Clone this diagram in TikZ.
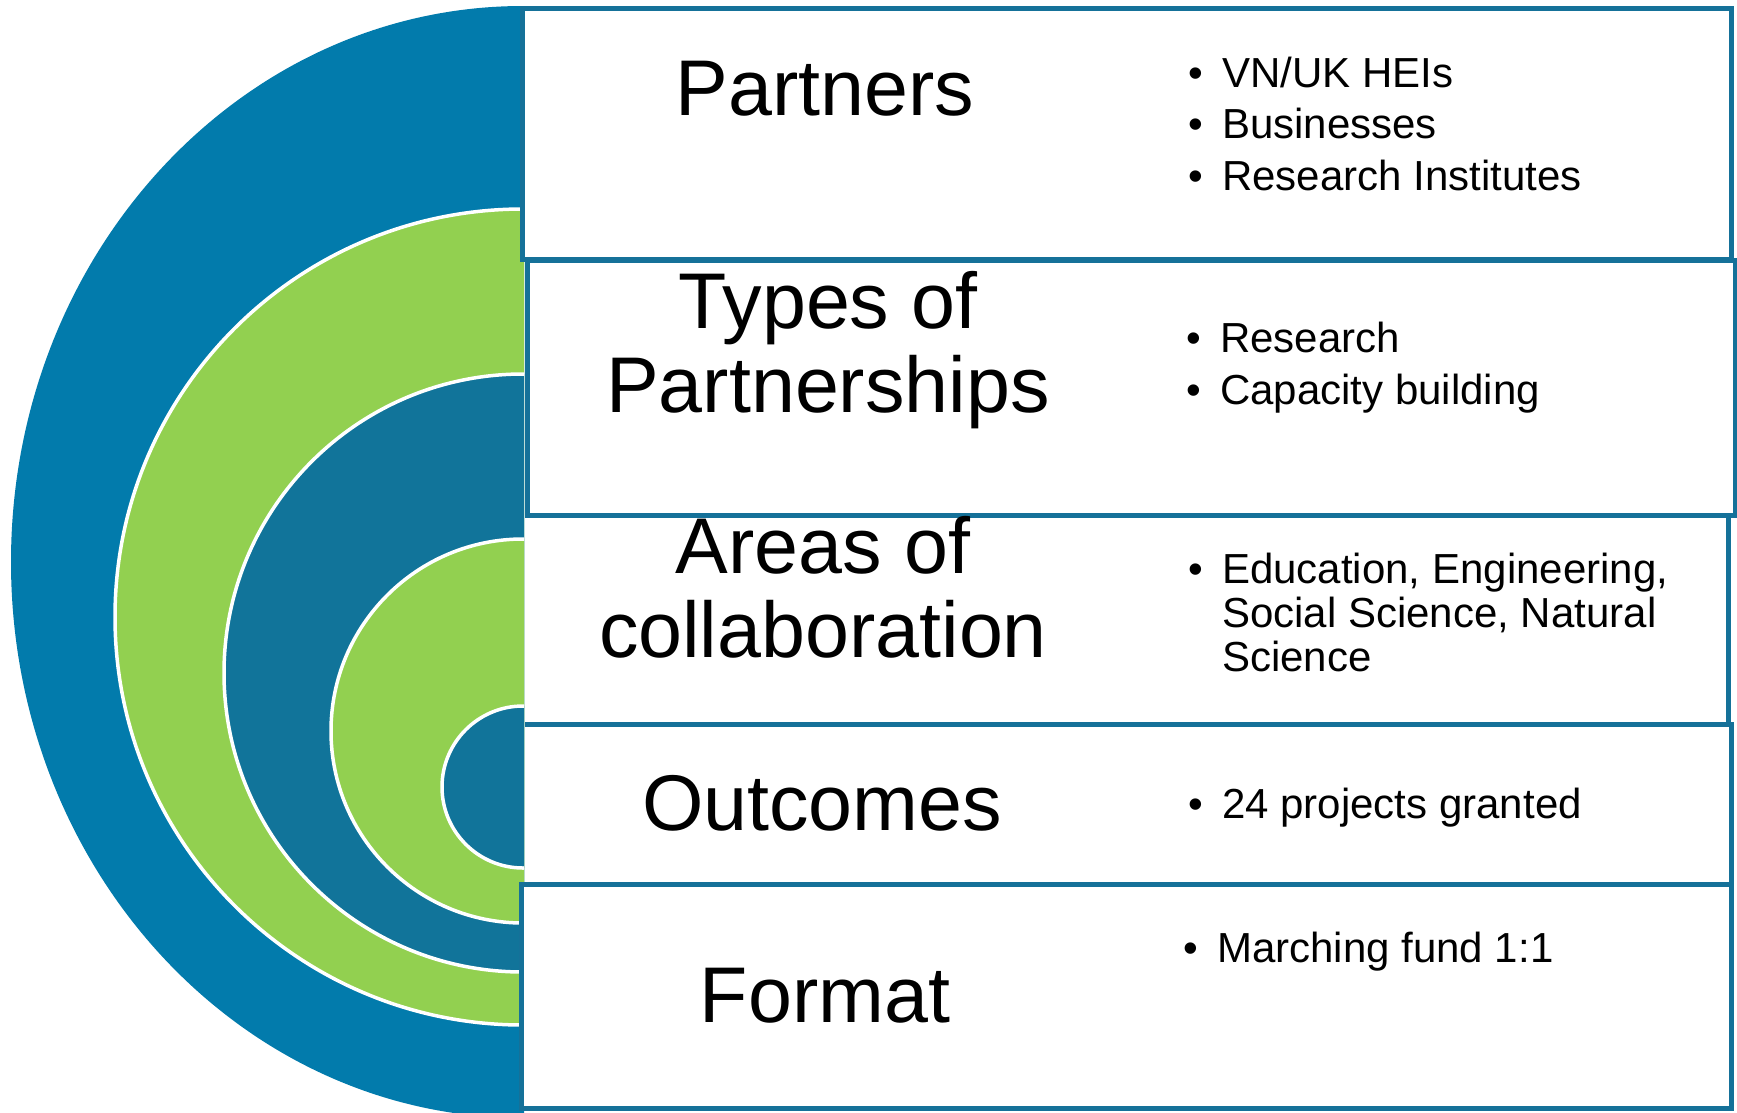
\documentclass[tikz,border=0pt]{standalone}
\usepackage{fontspec}
\setmainfont{Liberation Sans}
\definecolor{outerblue}{HTML}{027BAC}
\definecolor{innerblue}{HTML}{11749A}
\definecolor{ringgreen}{HTML}{92D050}
\definecolor{boxline}{HTML}{157199}
\tikzset{
  ring/.style={draw=white, line width=3.5pt},
  boxnode/.style={rectangle, fill=white, draw=boxline, line width=5pt, inner sep=0pt, outer sep=0pt},
  boxplain/.style={rectangle, fill=white, draw=none, inner sep=0pt, outer sep=0pt},
  boxedge/.style={draw=boxline, line width=5pt},
  title/.style={anchor=base, inner sep=0pt, align=center, font=\fontsize{79}{84}\selectfont},
  items/.style={anchor=base west, inner sep=0pt, align=left},
}
\newcommand{\bitem}[1]{\makebox[34pt][l]{\textbullet}#1}
\newcommand{\bcont}[1]{\hspace*{34pt}#1}
\begin{document}
\begin{tikzpicture}[x=1pt,y=-1pt]
\useasboundingbox (0,0) rectangle (1737,1112);
% concentric half rings
\begin{scope}
  \clip (0,0) rectangle (524,1112);
  \fill[outerblue] (523,562) ellipse [x radius=512, y radius=556];
  \filldraw[ring, fill=ringgreen] (523,617) circle [radius=408];
  \filldraw[ring, fill=innerblue] (523,673) circle [radius=299];
  \filldraw[ring, fill=ringgreen] (523,731) circle [radius=192];
  \filldraw[ring, fill=innerblue] (523,787) circle [radius=81];
\end{scope}
% boxes
\node[boxnode, minimum width=1209pt, minimum height=250.5pt] (b1) at (1127,133.75) {};
\node[boxnode, minimum width=1207.5pt, minimum height=255pt] (b2) at (1131.25,387.5) {};
\node[boxplain, minimum width=1203pt, minimum height=209pt] (b3) at (1126.5,619.5) {};
\draw[boxedge] (b3.north west) -- (b3.north east) -- (b3.south east) -- (b3.south west);
\node[boxplain, minimum width=1201pt, minimum height=160pt] (b4) at (1130.5,804) {};
\draw[boxedge] (b4.north west) -- (b4.north east) -- (b4.south east) -- (b4.south west);
\node[boxnode, minimum width=1210pt, minimum height=224pt] (b5) at (1126,996) {};
% titles (base anchor = baseline of last line)
\node[title] (t1) at (825,115) {Partners};
\node[title] (t2) at (828,412) {Types of\\Partnerships};
\node[title] (t3) at (823,657) {Areas of\\collaboration};
\node[title] (t4) at (822,830) {Outcomes};
\node[title] (t5) at (825,1022) {Format};
% bullet lists
\node[items, font=\fontsize{42}{51.5}\selectfont] (l1) at (1188,190)
  {\bitem{VN/UK HEIs}\\\bitem{Businesses}\\\bitem{Research Institutes}};
\node[items, font=\fontsize{42}{52}\selectfont] (l2) at (1186,404)
  {\bitem{Research}\\\bitem{Capacity building}};
\node[items, font=\fontsize{42}{44}\selectfont] (l3) at (1188,671)
  {\bitem{Education, Engineering,}\\\bcont{Social Science, Natural}\\\bcont{Science}};
\node[items, font=\fontsize{42}{44}\selectfont] (l4) at (1188,818)
  {\bitem{24 projects granted}};
\node[items, font=\fontsize{42}{44}\selectfont] (l5) at (1183,962)
  {\bitem{Marching fund 1:1}};
\end{tikzpicture}
\end{document}
